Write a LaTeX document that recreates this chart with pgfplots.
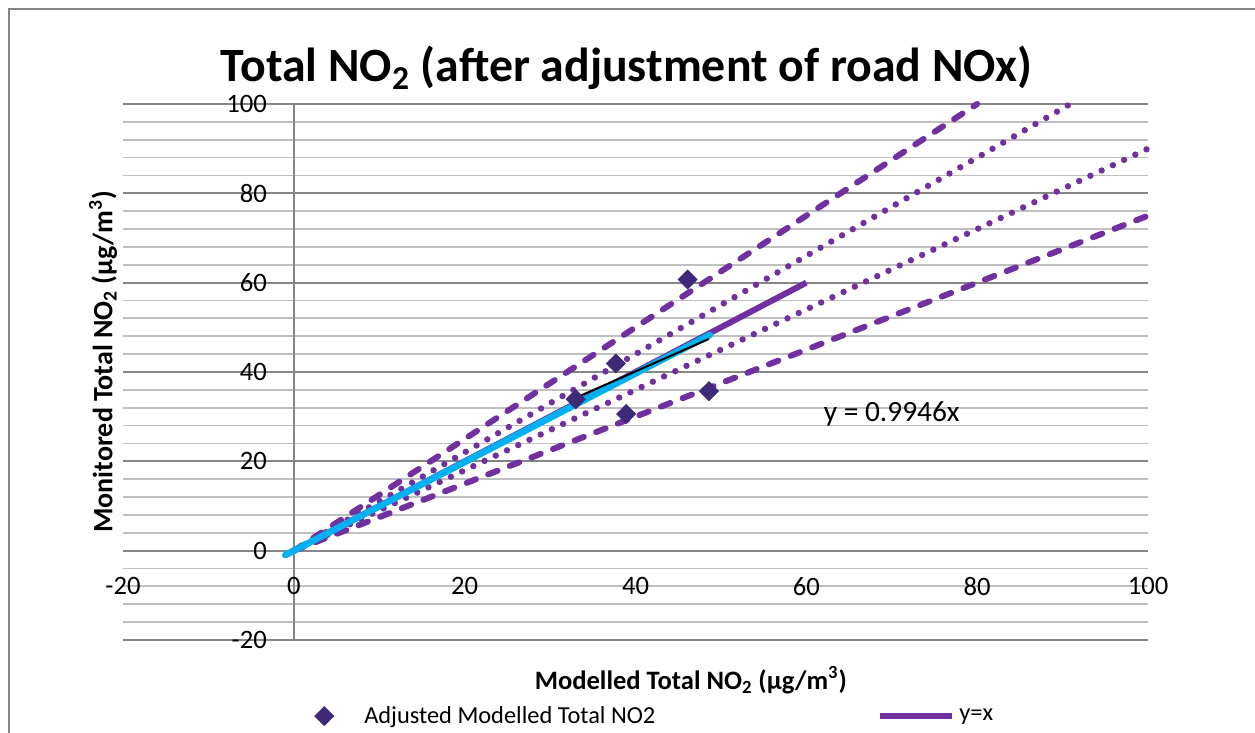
\documentclass[border=0pt]{standalone}
\usepackage{pgfplots}
\pgfplotsset{compat=1.18}
\usepackage{fontspec}
\setmainfont{Carlito}
\definecolor{xlpurple}{HTML}{7030A0}
\definecolor{xldiamond}{HTML}{3F2A7A}
\definecolor{xlcyan}{HTML}{00B0F0}
\definecolor{gridmaj}{HTML}{868686}
\definecolor{gridmin}{HTML}{BFBFBF}
\pgfplotsset{
  dlegend/.style={legend image code/.code={\path[draw=none,fill=none] (0pt,-3pt) rectangle (36pt,3pt); \draw[mark repeat=2,mark phase=2,##1] plot coordinates {(0pt,0pt) (18pt,0pt) (36pt,0pt)};}},
  llegend/.style={legend image code/.code={\draw[##1] (0pt,0pt) -- (36pt,0pt);}},
}
\begin{document}
\begin{tikzpicture}
\useasboundingbox (-61.5pt,-46.5pt) rectangle (566pt,320pt);
\draw[gridmaj, line width=1.25pt] (-57pt,-50pt) -- (-57pt,315.5pt) -- (570pt,315.5pt);
\begin{axis}[
  at={(0pt,0pt)}, anchor=south west,
  scale only axis, width=512.5pt, height=268pt,
  xmin=-20, xmax=100, ymin=-20, ymax=100,
  axis lines=middle,
  hide obscured x ticks=false, hide obscured y ticks=false,
  axis line style={-, gridmaj, line width=0.9pt},
  xtick={-20,0,20,40,60,80,100}, xticklabels={-20,0,20,40,60,80,100},
  ytick={-20,0,20,40,60,80,100}, yticklabels={-20,0,20,40,60,80,100},
  minor y tick num=4,
  ymajorgrids, yminorgrids,
  major grid style={gridmaj, line width=0.9pt},
  minor grid style={gridmin, line width=0.9pt},
  xtick style={draw=none},
  ytick style={gridmaj, line width=0.9pt},
  major tick length=8pt, tick align=center,
  minor tick length=0pt,
  tick label style={font=\fontsize{13.3}{16}\selectfont, text=black},
  xticklabel style={anchor=north, yshift=-6pt},
  yticklabel style={anchor=east, xshift=-6pt},
  every axis title shift=0pt,
  title={Total NO\textsubscript{2} (after adjustment of road NOx)},
  title style={at={(0.4915,1.067)}, anchor=center, font=\bfseries\fontsize{23.9}{28}\selectfont},
  xlabel={Modelled Total NO\textsubscript{2} (µg/m\textsuperscript{3})},
  xlabel style={at={(axis description cs:0.554,-0.0746)}, anchor=center, font=\bfseries\fontsize{13.3}{16}\selectfont},
  ylabel={Monitored Total NO\textsubscript{2} (µg/m\textsuperscript{3})},
  ylabel style={at={(axis description cs:-0.0195,0.519)}, anchor=center, rotate=90, font=\bfseries\fontsize{14}{17}\selectfont},
  legend columns=2,
  legend style={at={(axis description cs:0.155,-0.142)}, anchor=west, draw=none, fill=none,
    font=\fontsize{12.2}{14}\selectfont, /tikz/every even column/.append style={column sep=109pt}},
  clip=false,
]
\addplot[only marks, mark=square*, mark size=3.36pt,
  mark options={rotate=45, fill=xldiamond, draw=xldiamond}, dlegend]
  coordinates {(33.0,33.9) (37.7,41.9) (38.9,30.6) (46.1,60.7) (48.6,35.7)};
\addlegendentry{Adjusted Modelled Total NO2}
\addplot[forget plot, xlpurple, line width=3pt, line cap=round, dash pattern=on 5pt off 6.6pt]
  coordinates {(0,0) (80,100)};
\addplot[forget plot, xlpurple, line width=3pt, line cap=round, dash pattern=on 5pt off 6.6pt]
  coordinates {(0,0) (100,75)};
\addplot[forget plot, xlpurple, line width=3.2pt, line cap=round, dash pattern=on 0pt off 6.2pt]
  coordinates {(0,0) (90.91,100)};
\addplot[forget plot, xlpurple, line width=3.2pt, line cap=round, dash pattern=on 0pt off 6.2pt]
  coordinates {(0,0) (100,90)};
\addplot[xlpurple, line width=3pt, llegend]
  coordinates {(0,0) (60,60)};
\addlegendentry{y=x}
\addplot[forget plot, xlcyan, line width=3.3pt, line cap=round]
  coordinates {(-1,-1) (48.7,48.3)};
\addplot[forget plot, black, line width=1pt]
  coordinates {(33.1,34.3) (48.6,47.4)};
\node[font=\fontsize{14.7}{17}\selectfont] at (axis cs:70,30.5) {y = 0.9946x};
\end{axis}
\end{tikzpicture}
\end{document}
